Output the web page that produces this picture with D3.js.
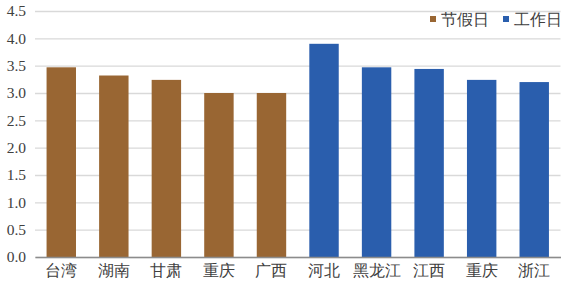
<!DOCTYPE html>
<html><head><meta charset="utf-8">
<script src="https://cdn.jsdelivr.net/npm/d3@7"></script>
<style>body{margin:0;background:#fff}</style>
</head><body>
<svg id="c" width="566" height="286"></svg>
<script>
const categories = ["台湾","湖南","甘肃","重庆","广西","河北","黑龙江","江西","重庆","浙江"];
const groups = ["节假日","节假日","节假日","节假日","节假日","工作日","工作日","工作日","工作日","工作日"];
const values = [3.47,3.32,3.24,3.00,3.00,3.90,3.47,3.44,3.24,3.20];
const yTicks = [0,0.5,1.0,1.5,2.0,2.5,3.0,3.5,4.0,4.5];
const seriesNames = ["节假日","工作日"];
const colors = ["#996633","#2A5EAD"];

const svg = d3.select("#c");
const m = {l:35, r:5.5, t:11, b:29};
const W = 566, H = 286;
const FONT = '"Liberation Serif"';
const x = d3.scaleBand().domain(d3.range(categories.length)).range([m.l, W-m.r]).paddingInner(0.44).paddingOuter(0.22);
const y = d3.scaleLinear().domain([0,4.5]).range([H-m.b, m.t]);
const color = d3.scaleOrdinal().domain(seriesNames).range(colors);

const yAxis = d3.axisLeft(y).tickValues(yTicks).tickSize(-(W-m.l-m.r)).tickFormat(d3.format(".1f"));
const gy = svg.append("g").attr("transform",`translate(${m.l},0)`).call(yAxis)
  .attr("font-family",null).attr("font-size",null);
gy.select(".domain").remove();
gy.selectAll(".tick line").attr("stroke","#d9d9d9").attr("stroke-width",1.3);
gy.selectAll(".tick text").attr("x",-9).style("font-family",FONT).attr("font-size",15.5).attr("fill","#404040");

svg.append("g").selectAll("rect").data(values).join("rect")
  .attr("x",(d,i)=>x(i)).attr("width",x.bandwidth())
  .attr("y",d=>y(d)).attr("height",d=>y(0)-y(d))
  .attr("fill",(d,i)=>color(groups[i]));

const gx = svg.append("g").attr("transform",`translate(0,${y(0)})`)
  .call(d3.axisBottom(x).tickSize(0).tickFormat(i=>categories[i]))
  .attr("font-family",null).attr("font-size",null);
gx.select(".domain").attr("stroke","#8c8c8c").attr("stroke-width",1.3);
gx.selectAll(".tick text").attr("dy","1.05em").style("font-family",FONT).attr("font-size",15.5).attr("fill","#404040");

const leg = svg.append("g");
const legX = [430, 503];
seriesNames.forEach((s,i)=>{
  leg.append("rect").attr("x",legX[i]).attr("y",16).attr("width",6).attr("height",6).attr("fill",colors[i]);
  leg.append("text").attr("x",legX[i]+11).attr("y",25).text(s)
    .style("font-family",FONT).attr("font-size",15.5).attr("fill","#404040");
});
</script>
</body></html>
